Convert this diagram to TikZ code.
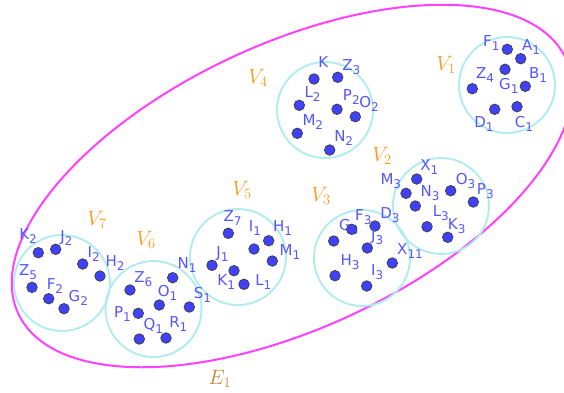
\documentclass[tikz,border=0pt]{standalone}
\usepackage{fontspec}
\setsansfont{DejaVu Sans}
\usepackage{tikz}
\definecolor{PtBlue}{RGB}{64,64,255}
\definecolor{LabBlue}{RGB}{85,85,255}
\definecolor{SetCyan}{RGB}{175,236,236}
\definecolor{EdgeMagenta}{RGB}{255,64,255}
\definecolor{SetOrange}{RGB}{255,152,20}
\definecolor{EdgeBrown}{RGB}{205,130,55}
\newcommand{\sbs}[1]{\raisebox{-4pt}{\fontsize{12}{12}\selectfont #1}}

\begin{document}
\begin{tikzpicture}[x=1pt, y=-1pt,
  pt/.style={circle, draw=black!75, line width=0.8pt, fill=PtBlue, minimum size=10.5pt, inner sep=0pt},
  lbl/.style={font=\fontsize{15}{15}\sffamily\selectfont, text=LabBlue, inner sep=0pt},
  vset/.style={circle, draw=SetCyan, line width=1.9pt, minimum size=96pt, inner sep=0pt},
  vlab/.style={font=\fontsize{20}{20}\selectfont, text=SetOrange, inner sep=0pt},
  hedge/.style={draw=EdgeMagenta, line width=2pt}
]
\useasboundingbox (0,0) rectangle (564,392);
\clip (0,0) rectangle (564,392);

% hyperedge
\draw[hedge, rotate around={25:(292,186)}] (292,186) ellipse [x radius=302, y radius=142];
\node[vlab, text=EdgeBrown] (nE1) at (220,379) {$E_1$};

% vertex sets
\node[vset] (V1) at (507,85) {};
\node[vset] (V2) at (441,206) {};
\node[vset] (V3) at (362,258) {};
\node[vset] (V4) at (325,110) {};
\node[vset] (V5) at (238,257) {};
\node[vset] (V6) at (153.5,309) {};
\node[vset] (V7) at (62,283) {};

\node[vlab] (nV1) at (446,65) {$V_1$};
\node[vlab] (nV2) at (382,156) {$V_2$};
\node[vlab] (nV3) at (321,196) {$V_3$};
\node[vlab] (nV4) at (258,78) {$V_4$};
\node[vlab] (nV5) at (242,190) {$V_5$};
\node[vlab] (nV6) at (146,240) {$V_6$};
\node[vlab] (nV7) at (97,220) {$V_7$};

% points: name / x / y / label / label x / label y
\foreach \n/\x/\y/\t/\lx/\ly in {
  F1/507.3/49.3/{F\sbs{1}}/491.3/42.7,
  A1/520.7/58.7/{A\sbs{1}}/531/46.7,
  G1/505/69.3/{G\sbs{1}}/508.8/85.8,
  B1/525.3/86.3/{B\sbs{1}}/538/74.7,
  Z4/472.3/88.7/{Z\sbs{4}}/485/75,
  D1/494.7/109.3/{D\sbs{1}}/484/124,
  C1/517/106.7/{C\sbs{1}}/524/124,
  K/314/79/{K}/323.3/62.5,
  Z3/337.7/77.3/{Z\sbs{3}}/351.3/66.7,
  L2/299.3/105.3/{L\sbs{2}}/312.5/94,
  P2/337/109.3/{P\sbs{2}}/351.3/97.5,
  O2/355.3/116.7/{O\sbs{2}}/369/104,
  M2/297.3/133.3/{M\sbs{2}}/312.8/121.7,
  N2/329.7/150/{N\sbs{2}}/343.7/138.3,
  X1/416.7/179/{X\sbs{1}}/429.2/166.7,
  M3/406/193.3/{M\sbs{3}}/390.8/180.8,
  N3/415.3/206/{N\sbs{3}}/430/193.3,
  O3/450.7/190.7/{O\sbs{3}}/465.5/180.8,
  P3/473.3/202/{P\sbs{3}}/485.3/190.8,
  L3/427/226.7/{L\sbs{3}}/440.8/213.3,
  K3/447.7/237.3/{K\sbs{3}}/456.7/225.8,
  G3/333.7/241/{G\sbs{3}}/348.8/227.5,
  F3/351.7/229.3/{F\sbs{3}}/363.3/216.7,
  D3/375/226/{D\sbs{3}}/390/215,
  J3/367.3/248/{J\sbs{3}}/377.2/237.5,
  X11/392.3/263/{X\sbs{11}}/410/250.8,
  H3/335/275.7/{H\sbs{3}}/350/261.7,
  I3/366.7/286/{I\sbs{3}}/377.2/271.7,
  Z7/228.3/233.3/{Z\sbs{7}}/232.5/218.3,
  I1/254/249/{I\sbs{1}}/255/228.3,
  H1/268.7/240.7/{H\sbs{1}}/282.5/228.3,
  M1/272.3/261/{M\sbs{1}}/290/251.7,
  J1/212/265.3/{J\sbs{1}}/222.5/254.2,
  K1/234/270.7/{K\sbs{1}}/226.2/281.7,
  L1/244/284.3/{L\sbs{1}}/263.3/282.5,
  N1/172.7/277.7/{N\sbs{1}}/187/265,
  Z6/130/290/{Z\sbs{6}}/143.3/279.2,
  O1/159.3/305/{O\sbs{1}}/167.5/292.5,
  S1/189.3/307/{S\sbs{1}}/202.5/295,
  P1/138.3/313.3/{P\sbs{1}}/122.5/314.2,
  Q1/139.3/339/{Q\sbs{1}}/153.3/325.8,
  R1/166/338/{R\sbs{1}}/178.3/324.2,
  K2/38.3/252.7/{K\sbs{2}}/28/235.8,
  J2/55.7/249.3/{J\sbs{2}}/66.3/238.3,
  I2/82.7/264/{I\sbs{2}}/93.7/254.2,
  H2/100/276/{H\sbs{2}}/115/263.3,
  Z5/32/287.3/{Z\sbs{5}}/28/271.7,
  F2/48.7/298.7/{F\sbs{2}}/55/285.8,
  G2/64/308.7/{G\sbs{2}}/78.3/298.3}
{
  \node[pt] (\n) at (\x,\y) {};
  \node[lbl] (lab\n) at (\lx,\ly) {\t};
}
\end{tikzpicture}
\end{document}
